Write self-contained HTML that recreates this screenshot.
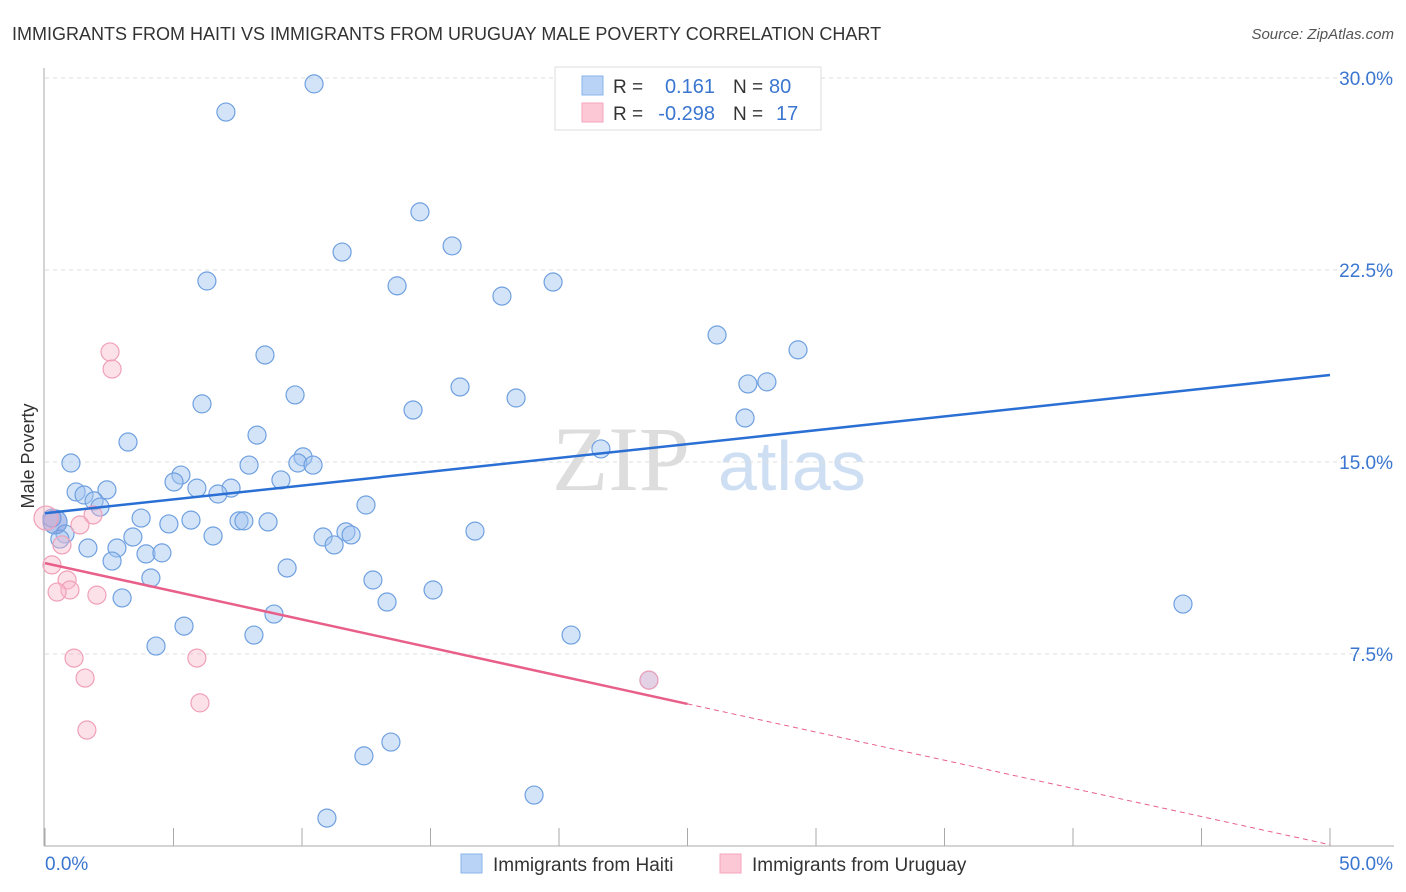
<!DOCTYPE html>
<html><head><meta charset="utf-8"><style>
body{margin:0;background:#fff;font-family:"Liberation Sans",sans-serif}
svg{display:block}
</style></head><body>
<svg width="1406" height="892">
<text x="12" y="40" font-size="18" fill="#333">IMMIGRANTS FROM HAITI VS IMMIGRANTS FROM URUGUAY MALE POVERTY CORRELATION CHART</text>
<text x="1394" y="39" font-size="15" fill="#555" font-style="italic" text-anchor="end">Source: ZipAtlas.com</text>
<g><text x="690" y="490" font-size="92" font-family="Liberation Serif,serif" fill="#ddd" text-anchor="end">ZIP</text><text x="718" y="490" font-size="70" fill="#cfdff3">atlas</text></g>
<g id="grid"></g>
<line x1="44" y1="68" x2="44" y2="846" stroke="#aaa"/>
<line x1="44" y1="846" x2="1394" y2="846" stroke="#aaa"/>
<text transform="translate(34,456) rotate(-90)" font-size="18" fill="#333" text-anchor="middle">Male Poverty</text>
<g id="ticks"></g>
<g id="pts"></g>
<g id="lines"></g>
<g>
<rect x="555" y="67" width="266" height="63" fill="#fff" stroke="#ddd"/>
<rect x="582" y="76" width="21" height="19" fill="#b8d3f5" stroke="#8ab4ea"/>
<rect x="582" y="103" width="21" height="19" fill="#fcc8d6" stroke="#f3a5bb"/>
<text x="613" y="93" font-size="19" fill="#333">R =</text>
<text x="715" y="93" font-size="20" fill="#3a76d0" text-anchor="end">0.161</text>
<text x="733" y="93" font-size="19" fill="#333">N =</text>
<text x="769" y="93" font-size="20" fill="#3a76d0">80</text>
<text x="613" y="120" font-size="19" fill="#333">R =</text>
<text x="715" y="120" font-size="20" fill="#3a76d0" text-anchor="end">-0.298</text>
<text x="733" y="120" font-size="19" fill="#333">N =</text>
<text x="776" y="120" font-size="20" fill="#3a76d0">17</text>
</g>
<g>
<rect x="461" y="854" width="21" height="19" fill="#b8d3f5" stroke="#8ab4ea"/>
<text x="493" y="871" font-size="19" fill="#333">Immigrants from Haiti</text>
<rect x="720" y="854" width="21" height="19" fill="#fcc8d6" stroke="#f3a5bb"/>
<text x="752" y="871" font-size="19" fill="#333">Immigrants from Uruguay</text>
</g>
</svg>
<script>
const haitiX=[10.47,7.04,14.59,15.84,11.56,6.30,13.70,17.78,19.77,26.15,29.30,8.56,27.35,28.09,16.15,9.73,18.33,6.11,14.32,27.24,8.25,3.23,21.63,1.01,7.94,10.04,9.84,10.43,5.29,5.02,9.18,5.91,7.24,6.73,1.21,1.52,2.41,1.91,2.14,12.49,3.74,4.82,5.68,7.55,7.74,8.68,0.27,0.78,0.58,16.73,11.71,11.91,10.82,6.54,3.42,11.25,1.67,2.80,3.93,4.55,2.61,9.42,4.12,12.76,15.10,3.00,13.31,44.28,8.91,5.41,20.47,8.13,4.32,23.50,13.46,12.41,19.03,10.97,20.35,0.39];
const haitiY=[29.77,28.67,24.77,23.44,23.20,22.07,21.88,21.48,22.03,19.96,19.38,19.18,18.05,18.13,17.93,17.62,17.50,17.27,17.03,16.72,16.05,15.78,15.51,14.96,14.88,15.2,14.96,14.88,14.49,14.22,14.30,13.98,13.98,13.75,13.83,13.71,13.91,13.48,13.24,13.32,12.81,12.58,12.73,12.70,12.70,12.66,12.81,12.19,11.99,12.30,12.27,12.15,12.07,12.11,12.07,11.76,11.64,11.64,11.41,11.45,11.13,10.86,10.47,10.39,10.00,9.69,9.53,9.45,9.06,8.59,8.24,8.24,7.81,6.48,4.06,3.52,1.99,1.09,29.06,12.66];
const uruX=[2.53,2.61,0.04,1.87,1.36,0.66,0.27,0.86,0.97,0.47,2.02,1.13,5.91,1.56,6.03,1.63,23.50];
const uruY=[19.30,18.63,12.81,12.93,12.54,11.76,10.98,10.39,10.00,9.92,9.80,7.34,7.34,6.56,5.59,4.53,6.48];
const yTicks=[7.5,15,22.5,30];
const yTickLabels=["7.5%","15.0%","22.5%","30.0%"];
const xTicks=[0,5,10,15,20,25,30,35,40,45,50];
const haitiTrend=[13.0,18.4];
const uruTrend=[11.05,0.05];
const uruSolidEnd=25;
const NS="http://www.w3.org/2000/svg";
const sx=v=>45+v*25.7, sy=v=>846-v*25.6;
function mk(tag,attrs,parent){const e=document.createElementNS(NS,tag);for(const k in attrs)e.setAttribute(k,attrs[k]);document.getElementById(parent).appendChild(e);return e;}
yTicks.forEach((t,i)=>{
 const l=mk('line',{x1:45,x2:1394,y1:sy(t),y2:sy(t),stroke:'#ddd','stroke-dasharray':'4,4'},'grid');
 
 
 const tx=mk('text',{x:1393,y:sy(t)+7,'font-size':19,fill:'#3a76d0','text-anchor':'end'},'grid');
 tx.textContent=yTickLabels[i];
 
 
});
xTicks.forEach(t=>{
 const l=mk('line',{x1:sx(t),x2:sx(t),y1:828,y2:846,stroke:'#aaa'},'ticks');
 
 
});
let a=mk('text',{x:45,y:870,'font-size':19,fill:'#3a76d0'},'ticks');a.textContent='0.0%';


a=mk('text',{x:1393,y:870,'font-size':19,fill:'#3a76d0','text-anchor':'end'},'ticks');a.textContent='50.0%';


haitiX.forEach((x,i)=>{
 const big=i===haitiX.length-1;
 const c=mk('circle',{cx:sx(x),cy:sy(haitiY[i]),r:big?12:9,fill:big?'rgba(120,150,220,0.55)':'rgba(160,196,240,0.45)',stroke:'#6fa0e0','stroke-width':1.2},'pts');
 
 
});
uruX.forEach((x,i)=>{
 const big=i===2;
 const c=mk('circle',{cx:sx(x),cy:sy(uruY[i]),r:big?12:9,fill:'rgba(250,180,200,0.4)',stroke:'#f0a0b8','stroke-width':1.2},'pts');
 
 
});
let l=mk('line',{x1:sx(0),y1:sy(haitiTrend[0]),x2:sx(50),y2:sy(haitiTrend[1]),stroke:'#2a6fd4','stroke-width':2.5},'lines');


const uy=x=>uruTrend[0]+(uruTrend[1]-uruTrend[0])*x/50;
l=mk('line',{x1:sx(0),y1:sy(uy(0)),x2:sx(uruSolidEnd),y2:sy(uy(uruSolidEnd)),stroke:'#e8608a','stroke-width':2.5},'lines');


l=mk('line',{x1:sx(uruSolidEnd),y1:sy(uy(uruSolidEnd)),x2:sx(50),y2:sy(uy(50)),stroke:'#e8608a','stroke-width':1,'stroke-dasharray':'5,4'},'lines');


</script>
</body></html>
